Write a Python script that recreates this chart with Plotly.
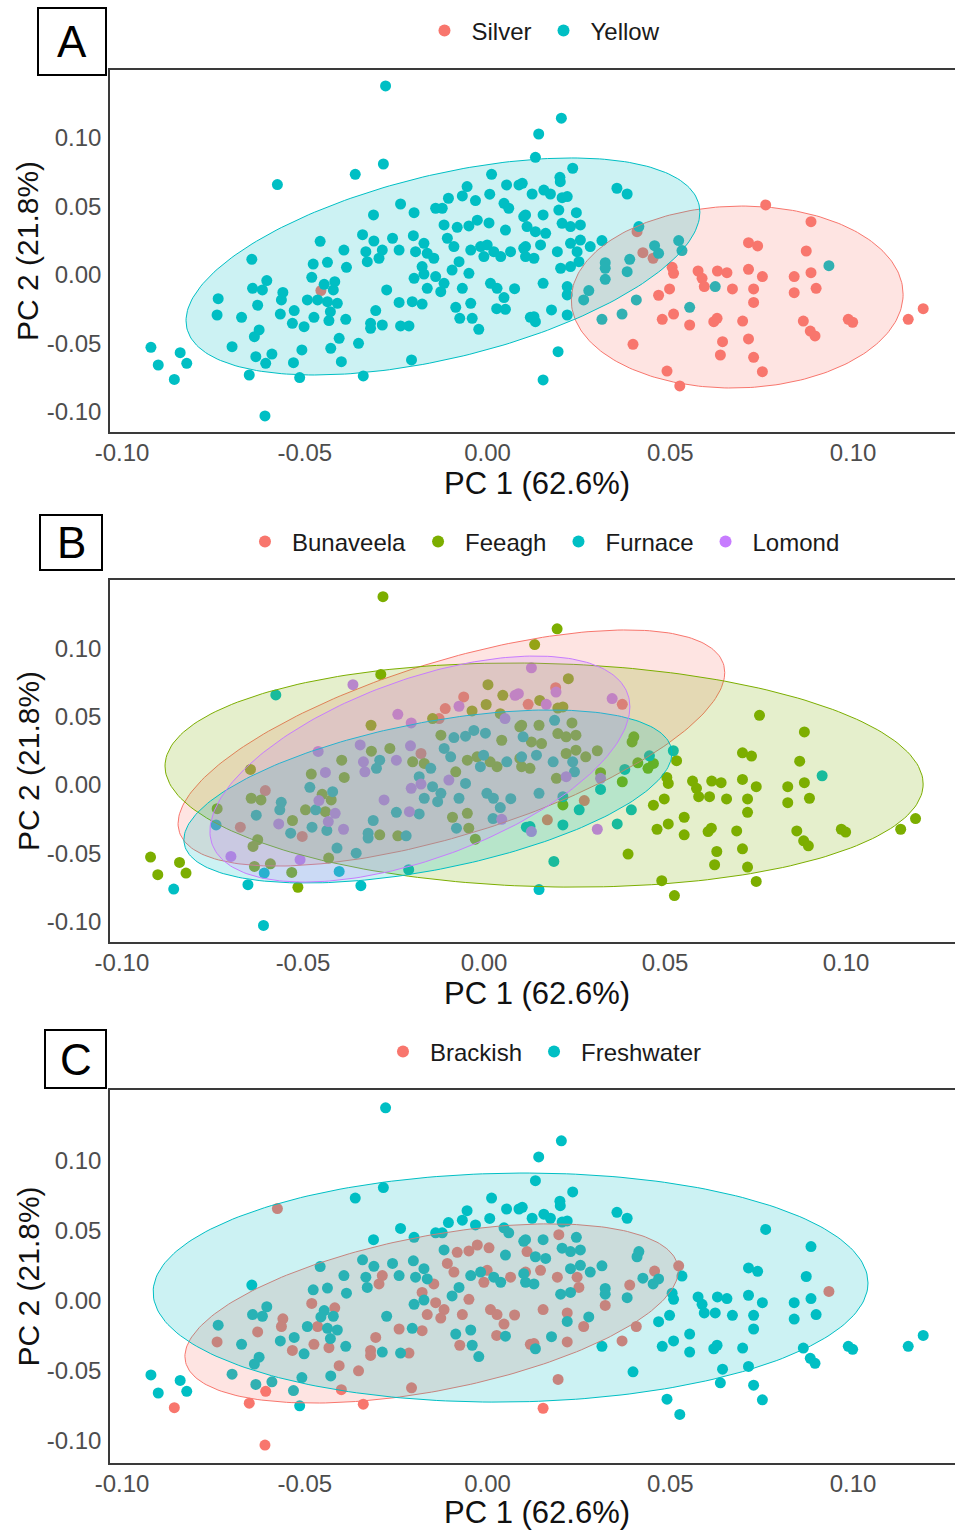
import numpy as np
import plotly.graph_objects as go

# ---------------- data ----------------
pc1 = [
    -0.0279, -0.0285, -0.0362, -0.0575, 0.0011, -0.0056, -0.0069, -0.0033, 0.0006, -0.0107,
    0.0052, 0.0086, 0.0045, 0.0058, -0.0238, -0.0201, -0.0312, -0.0142, -0.0124, -0.0028,
    0.0004, -0.0119, -0.0083, -0.0051, 0.0049, -0.0342, -0.0311, -0.0260, -0.0203, -0.0174,
    -0.0110, -0.0092, -0.0046, -0.0001, -0.0010, 0.0063, 0.0099, -0.0458, -0.0393, -0.0333,
    -0.0288, -0.0329, -0.0297, -0.0242, -0.0197, -0.0165, -0.0147, -0.0179, -0.0078, 0.0036,
    -0.0477, -0.0438, -0.0386, -0.0645, -0.0604, -0.0643, -0.0616, -0.0560, -0.0564, -0.0481,
    -0.0456, -0.0447, -0.0418, -0.0422, -0.0493, -0.0465, -0.0438, -0.0411, -0.0737, -0.0740,
    -0.0673, -0.0629, -0.0567, -0.0529, -0.0534, -0.0502, -0.0475, -0.0434, -0.0388, -0.0430,
    -0.0276, -0.0206, -0.0179, -0.0242, -0.0306, -0.0320, -0.0320, -0.0288, -0.0238, -0.0215,
    -0.0174, -0.0201, -0.0142, -0.0119, -0.0097, -0.0069, -0.0051, -0.0165, -0.0128, -0.0087,
    -0.0046, -0.0076, -0.0042, -0.0024, 0.0008, 0.0026, 0.0045, 0.0025, 0.0049, 0.0074,
    0.0117, -0.0625, -0.0638, -0.0699, -0.0634, -0.0607, -0.0590, -0.0531, -0.0508, -0.0429,
    -0.0406, -0.0353, -0.0400, -0.0208, -0.0921, -0.0901, -0.0841, -0.0823, -0.0857, -0.0652,
    -0.0514, -0.0340, -0.0609, -0.0019, 0.0017, 0.0099, 0.0104,
    # right-hand part
    0.0202, 0.0140, 0.0131, 0.0233, 0.0198, 0.0199, 0.0095, 0.0122, 0.0154, 0.0172,
    0.0204, 0.0218, 0.0354, 0.0382, 0.0104, 0.0152, 0.0195, 0.0243, 0.0108, 0.0131,
    0.0159, 0.0204, 0.0227, 0.0254, 0.0104, 0.0145, 0.0191, 0.0227, 0.0254, 0.0127,
    0.0245, 0.0281, 0.0313, 0.0200, 0.0227, 0.0250, 0.0152, 0.0218, 0.0218, 0.0277,
    0.0263, 0.0414, 0.0322, 0.0322, 0.0322, 0.0382, 0.0389, 0.0457, 0.0468, 0.0523,
    0.0532, 0.0407, 0.0368, 0.0313, 0.0175, 0.0127, 0.0131, 0.0218, 0.0193, 0.0152,
    0.0623, 0.0553, 0.0934,
    # silver cluster
    0.0409, 0.0425, 0.0453, 0.0761, 0.0885, 0.0714, 0.0739, 0.0872, 0.0505, 0.0509,
    0.0576, 0.0587, 0.0593, 0.0629, 0.0655, 0.0714, 0.0752, 0.0839, 0.0885, 0.0670,
    0.0728, 0.0728, 0.0839, 0.0899, 0.0498, 0.0468, 0.0509, 0.0478, 0.0553, 0.0619,
    0.0628, 0.0698, 0.0864, 0.0883, 0.0896, 0.0987, 0.0999, 0.1151, 0.1192, 0.0398,
    0.0643, 0.0637, 0.0714, 0.0728, 0.0752, 0.0491, 0.0526,
]

pc2 = [
    0.1380, 0.0810, 0.0735, 0.0660, 0.0735, 0.0645, 0.0577, 0.0543, 0.0590, 0.0560,
    0.0657, 0.0657, 0.0523, 0.0487, 0.0518, 0.0455, 0.0438, 0.0487, 0.0487, 0.0400,
    0.0380, 0.0365, 0.0348, 0.0358, 0.0328, 0.0294, 0.0248, 0.0268, 0.0287, 0.0231,
    0.0268, 0.0207, 0.0182, 0.0219, 0.0134, 0.0170, 0.0195, 0.0246, 0.0182, 0.0170,
    0.0182, 0.0097, 0.0122, 0.0182, 0.0170, 0.0158, 0.0122, 0.0061, 0.0097, 0.0134,
    0.0080, 0.0092, 0.0056, 0.0114, -0.0041, -0.0097, -0.0109, -0.0127, -0.0182, -0.0017,
    -0.0114, -0.0068, -0.0049, -0.0109, -0.0182, -0.0182, -0.0195, -0.0207, -0.0173, -0.0292,
    -0.0309, -0.0221, -0.0285, -0.0260, -0.0353, -0.0377, -0.0309, -0.0333, -0.0324, -0.0268,
    -0.0109, -0.0195, -0.0212, -0.0200, -0.0260, -0.0353, -0.0389, -0.0365, -0.0372, -0.0372,
    0.0007, -0.0024, -0.0012, -0.0061, 0.0036, -0.0097, 0.0012, -0.0097, -0.0122, -0.0236,
    -0.0207, -0.0316, -0.0316, -0.0397, -0.0061, -0.0097, -0.0165, -0.0246, -0.0251, -0.0100,
    -0.0309, -0.0401, -0.0450, -0.0523, -0.0596, -0.0645, -0.0577, -0.0640, -0.0547, -0.0535,
    -0.0462, -0.0499, -0.0633, -0.0620, -0.0528, -0.0657, -0.0567, -0.0645, -0.0762, -0.0730,
    -0.0749, -0.0737, -0.1029, 0.0207, 0.0170, 0.0426, 0.0134,
    # right-hand part
    0.1144, 0.1029, 0.0859, 0.0779, 0.0713, 0.0681, 0.0669, 0.0591, 0.0620, 0.0591,
    0.0564, 0.0572, 0.0633, 0.0591, 0.0438, 0.0438, 0.0474, 0.0455, 0.0353, 0.0316,
    0.0304, 0.0377, 0.0353, 0.0365, 0.0207, 0.0219, 0.0170, 0.0231, 0.0255, 0.0122,
    0.0170, 0.0207, 0.0251, 0.0049, 0.0061, 0.0097, -0.0061, -0.0085, -0.0146, -0.0114,
    -0.0182, 0.0353, 0.0090, 0.0049, -0.0032, 0.0024, 0.0114, 0.0214, 0.0158, 0.0251,
    0.0178, -0.0182, -0.0285, -0.0324, -0.0255, -0.0304, -0.0341, -0.0292, -0.0560, -0.0766,
    -0.0085, -0.0236, 0.0068,
    # silver cluster
    0.0316, 0.0163, 0.0122, 0.0511, 0.0389, 0.0236, 0.0212, 0.0175, 0.0056, 0.0012,
    0.0029, -0.0024, -0.0085, 0.0029, 0.0017, 0.0041, -0.0012, -0.0012, 0.0017, -0.0102,
    -0.0102, -0.0200, -0.0129, -0.0097, -0.0102, -0.0148, -0.0285, -0.0324, -0.0365, -0.0341,
    -0.0316, -0.0336, -0.0336, -0.0409, -0.0445, -0.0324, -0.0345, -0.0324, -0.0246, -0.0506,
    -0.0487, -0.0584, -0.0467, -0.0601, -0.0706, -0.0701, -0.0810,
]

# eel stage: S = Silver, Y = Yellow
stage = (
    list("YYYYYYYYYY" "YYYYYYYYYY" "YYYYYYYYYY" "YYYYYYYYYY" "YYYYYYYYYY"
         "YYYYYYYYYY" "SYYYYYYYYY" "YYYYYYYYYY" "YYYYYYYYYY" "YYYYYYYYYY"
         "YYYYYYYYYY" "YYYYYYYYYY" "YYYYYYYYYY" "YYYYYYY")
    + list("Y" * 63)
    + list("S" * 47)
)

# lake: B = Bunaveela, E = Feeagh, F = Furnace, L = Lomond
lake = list(
    "EELFEBLEEB" "ELELLLEEBF" "FEFFELEELB" "FFEFFFELEL" "FLFLEEFFEE"
    "ELEEBEEFFF" "LEFEEFELEF" "BFLEFBFFLL" "LLFFFFFEEF" "LLFFLFFFFE"
    "EFEEFFFFLF" "FEELEFEELE" "FFFFEEEEFF" "EFFEEEE"
    # right-hand part
    "EELEBLLBEL" "EELBEEFEFE" "EEEEFFFEEE" "FEEELFFFEB" "FEELFEFFEF"
    "EFFLBFLFFF" "EEF"
    # silver cluster
    + "E" * 47
)

STAGE_NAMES = {"S": "Silver", "Y": "Yellow"}
LAKE_NAMES = {"B": "Bunaveela", "E": "Feeagh", "F": "Furnace", "L": "Lomond"}
HABITAT_OF_LAKE = {"Bunaveela": "Freshwater", "Feeagh": "Freshwater",
                   "Furnace": "Brackish", "Lomond": "Freshwater"}

# 95% ellipse summaries per group: centre, half-extent in x / y, correlation
ellA_group = ["Silver", "Yellow"]
ellA_cx = [0.0683, -0.0122]
ellA_cy = [-0.0161, 0.0062]
ellA_sx = [0.0454, 0.0703]
ellA_sy = [0.0664, 0.0792]
ellA_rho = [0.03, 0.50]

ellB_group = ["Bunaveela", "Feeagh", "Furnace", "Lomond"]
ellB_cx = [-0.0090, 0.0166, -0.0155, -0.0177]
ellB_cy = [0.0271, 0.0073, -0.0084, 0.0117]
ellB_sx = [0.0755, 0.1047, 0.0674, 0.0580]
ellB_sy = [0.0865, 0.0821, 0.0634, 0.0828]
ellB_rho = [0.64, -0.08, 0.50, 0.55]

ellC_group = ["Brackish", "Freshwater"]
ellC_cx = [-0.0153, 0.0063]
ellC_cy = [-0.0089, 0.0096]
ellC_sx = [0.0675, 0.0978]
ellC_sy = [0.0640, 0.0818]
ellC_rho = [0.48, 0.04]

tick_vals = [-0.10, -0.05, 0.00, 0.05, 0.10]
tick_text = ["-0.10", "-0.05", "0.00", "0.05", "0.10"]
x_title = "PC 1 (62.6%)"
y_title = "PC 2 (21.8%)"
panel_letters = ["A", "B", "C"]

assert len(pc1) == len(pc2) == len(stage) == len(lake)

# ---------------- styling ----------------
W, H = 955, 1530
COL = {
    "Silver": "#F8766D", "Yellow": "#00BFC4",
    "Bunaveela": "#F8766D", "Feeagh": "#7CAE00", "Furnace": "#00BFC4", "Lomond": "#C77CFF",
    "Brackish": "#F8766D", "Freshwater": "#00BFC4",
}
FONT = "Liberation Sans, Arial, sans-serif"


def rgba(hexc, a):
    h = hexc.lstrip("#")
    return f"rgba({int(h[0:2],16)},{int(h[2:4],16)},{int(h[4:6],16)},{a})"


def px_x(p):
    return p / W


def px_y(p):
    return 1 - p / H


pc1_a = np.array(pc1)
pc2_a = np.array(pc2)
stage_names = np.array([STAGE_NAMES[s] for s in stage])
lake_names = np.array([LAKE_NAMES[l] for l in lake])
habitat_names = np.array([HABITAT_OF_LAKE[l] for l in lake_names])

panels = [
    dict(labels=stage_names, groups=ellA_group,
         ell=(ellA_cx, ellA_cy, ellA_sx, ellA_sy, ellA_rho),
         top=70, bottom=432, xr=[-0.1033, 0.1279], yr=[-0.1146, 0.1496],
         legend_y=31, xt_y=483, box=(38, 8, 106, 75)),
    dict(labels=lake_names, groups=ellB_group,
         ell=(ellB_cx, ellB_cy, ellB_sx, ellB_sy, ellB_rho),
         top=580, bottom=942, xr=[-0.1033, 0.1301], yr=[-0.1150, 0.1502],
         legend_y=542, xt_y=993, box=(40, 515, 102, 570)),
    dict(labels=habitat_names, groups=ellC_group,
         ell=(ellC_cx, ellC_cy, ellC_sx, ellC_sy, ellC_rho),
         top=1090, bottom=1463, xr=[-0.1033, 0.1279], yr=[-0.1157, 0.1507],
         legend_y=1052, xt_y=1512, box=(45, 1030, 106, 1088)),
]

fig = go.Figure()
layout = dict(
    width=W, height=H, margin=dict(l=0, r=0, t=0, b=0, pad=0, autoexpand=False),
    paper_bgcolor="white", plot_bgcolor="white",
    font=dict(family=FONT), showlegend=True,
)
annotations = []
shapes = []
t = np.linspace(0, 2 * np.pi, 241)

for i, p in enumerate(panels):
    k = "" if i == 0 else str(i + 1)
    xa, ya = "x" + k, "y" + k
    leg = "legend" + k
    # points
    for g in p["groups"]:
        m = p["labels"] == g
        fig.add_trace(go.Scatter(
            x=pc1_a[m], y=pc2_a[m], mode="markers", name=g,
            marker=dict(color=COL[g], size=11, line=dict(width=0)),
            xaxis=xa, yaxis=ya, legend=leg, showlegend=True,
        ))
    # ellipses drawn on top of the points
    cx, cy, sx, sy, rho = p["ell"]
    for j, g in enumerate(p["groups"]):
        r = rho[j]
        ex = cx[j] + sx[j] * np.cos(t)
        ey = cy[j] + sy[j] * (r * np.cos(t) + np.sqrt(1 - r * r) * np.sin(t))
        fig.add_trace(go.Scatter(
            x=ex, y=ey, mode="lines", fill="toself",
            fillcolor=rgba(COL[g], 0.2), line=dict(color=COL[g], width=1),
            xaxis=xa, yaxis=ya, showlegend=False, hoverinfo="skip",
        ))

    dom_y = [px_y(p["bottom"]), px_y(p["top"])]
    layout["xaxis" + k] = dict(
        domain=[px_x(110), 1.0], range=p["xr"], anchor=ya, automargin=False,
        showline=True, mirror=True, linecolor="#3a3a3a", linewidth=1.5,
        showgrid=False, zeroline=False, ticks="", ticklen=0,
        tickvals=tick_vals, ticktext=tick_text, ticklabelstandoff=-2,
        tickfont=dict(size=24, color="#4D4D4D", family=FONT),
    )
    layout["yaxis" + k] = dict(
        domain=dom_y, range=p["yr"], anchor=xa, automargin=False,
        showline=True, mirror=False, linecolor="#3a3a3a", linewidth=1.5,
        showgrid=False, zeroline=False, ticks="", ticklen=0,
        tickvals=tick_vals, ticktext=tick_text, ticklabelstandoff=2,
        tickfont=dict(size=24, color="#4D4D4D", family=FONT),
    )
    layout[leg] = dict(
        orientation="h", x=0.567, xanchor="center",
        y=px_y(p["legend_y"]), yanchor="middle",
        font=dict(size=24, color="#1A1A1A", family=FONT),
        bgcolor="rgba(0,0,0,0)", itemwidth=44, tracegroupgap=0,
        itemsizing="constant",
    )
    # axis titles
    annotations.append(dict(
        text=x_title, xref="paper", yref="paper",
        x=px_x(537), y=px_y(p["xt_y"]), xanchor="center", yanchor="middle",
        showarrow=False, font=dict(size=31, color="#111111", family=FONT)))
    annotations.append(dict(
        text=y_title, xref="paper", yref="paper", textangle=-90,
        x=px_x(28), y=px_y((p["top"] + p["bottom"]) / 2),
        xanchor="center", yanchor="middle",
        showarrow=False, font=dict(size=30, color="#111111", family=FONT)))
    # panel letter box
    bx0, by0, bx1, by1 = p["box"]
    shapes.append(dict(type="rect", xref="paper", yref="paper",
                       x0=px_x(bx0), x1=px_x(bx1), y0=px_y(by1), y1=px_y(by0),
                       line=dict(color="black", width=2), fillcolor="white"))
    annotations.append(dict(
        text=panel_letters[i], xref="paper", yref="paper",
        x=px_x((bx0 + bx1) / 2), y=px_y((by0 + by1) / 2),
        xanchor="center", yanchor="middle", showarrow=False,
        font=dict(size=44, color="black", family=FONT)))

layout["annotations"] = annotations
layout["shapes"] = shapes
fig.update_layout(**layout)
fig.write_html("out.html")
